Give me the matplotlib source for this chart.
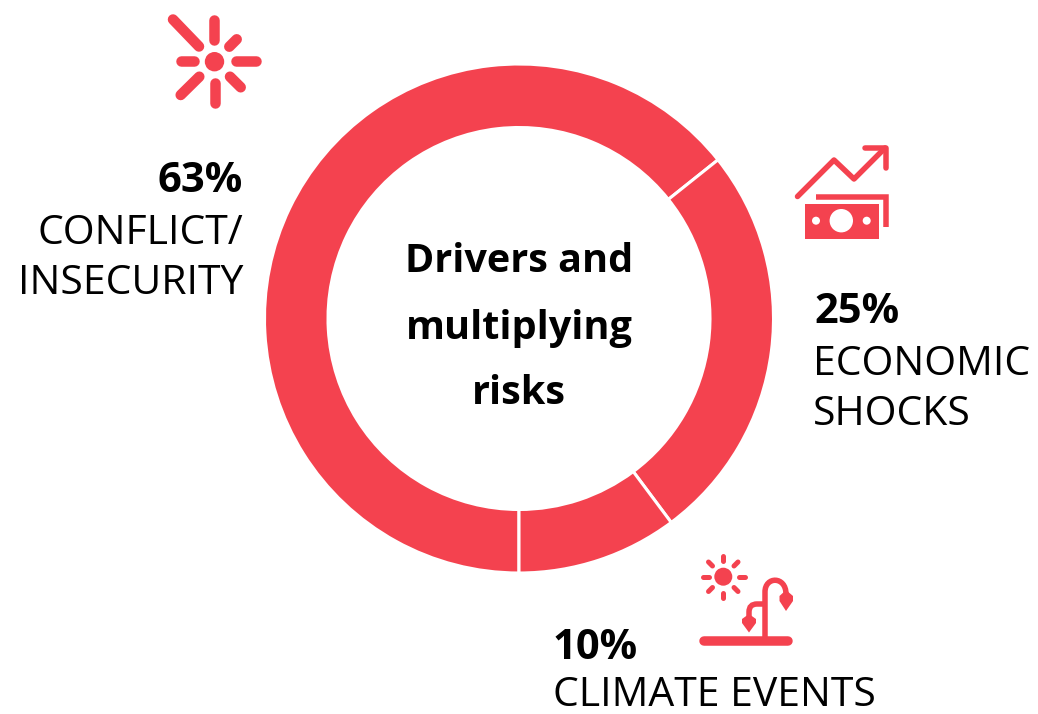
import matplotlib
matplotlib.use('Agg')
import matplotlib.pyplot as plt
from matplotlib.patches import Circle, Rectangle, PathPatch
from matplotlib.path import Path

W, H = 1038, 714
RED = '#f4424f'

# donut shares, conflict starts at 6 o'clock and goes clockwise
shares = [63, 25, 10]
pct_labels = ['63%', '25%', '10%']
driver_labels = ['CONFLICT/\nINSECURITY', 'ECONOMIC\nSHOCKS', 'CLIMATE EVENTS']
center_lines = ['Drivers and', 'multiplying', 'risks']

plt.rcParams['font.family'] = ['Open Sans', 'DejaVu Sans']


def px(v):
    # stroke width from pixels to points
    return v * 72 / 100


def stroke(ax, pts, w, cap='round', join='round'):
    xs, ys = zip(*pts)
    ax.plot(xs, ys, color=RED, lw=px(w), solid_capstyle=cap, solid_joinstyle=join)


fig = plt.figure(figsize=(W / 100, H / 100), dpi=100, facecolor='white')

# donut
cx, cy, r_out, r_in = 519, 318.5, 254.5, 191
ax = fig.add_axes([(cx - r_out) / W, 1 - (cy + r_out) / H, 2 * r_out / W, 2 * r_out / H])
ax.pie(shares, startangle=270, counterclock=False, colors=[RED] * 3, radius=1,
       wedgeprops=dict(width=1 - r_in / r_out, edgecolor='white', linewidth=2.2))
ax.set_xlim(-1, 1)
ax.set_ylim(-1, 1)
ax.set_aspect('equal')
ax.axis('off')

# overlay in pixel coordinates for text and icons
ov = fig.add_axes([0, 0, 1, 1])
ov.set_xlim(0, W)
ov.set_ylim(H, 0)
ov.axis('off')

for line, y in zip(center_lines, [259, 326, 391]):
    ov.text(cx, y + 2, line, ha='center', va='center', fontsize=28.5, fontweight='bold', color='black')

size_pct, size_lbl = 30, 29.4
ov.text(243, 192, pct_labels[0], ha='right', va='baseline', fontsize=size_pct, fontweight='bold')
ov.text(243, 244, 'CONFLICT/', ha='right', va='baseline', fontsize=size_lbl)
ov.text(243, 294, 'INSECURITY', ha='right', va='baseline', fontsize=size_lbl)

ov.text(814, 323, pct_labels[1], ha='left', va='baseline', fontsize=size_pct, fontweight='bold')
ov.text(813, 375, 'ECONOMIC', ha='left', va='baseline', fontsize=size_lbl)
ov.text(813, 425, 'SHOCKS', ha='left', va='baseline', fontsize=size_lbl)

ov.text(553, 659, pct_labels[2], ha='left', va='baseline', fontsize=size_pct, fontweight='bold')
ov.text(553, 706, driver_labels[2], ha='left', va='baseline', fontsize=size_lbl)

# burst icon
ov.add_patch(Circle((214.5, 61.7), 9.7, color=RED, lw=0))
for a, b, w in [((173, 19.5), (199, 46.5), 10.5), ((214.3, 20), (214.3, 40), 10.5),
                ((229.3, 46.7), (236.7, 39.3), 10.5), ((236, 61.3), (256, 61.3), 10.5),
                ((180.7, 61.3), (194, 61.3), 10.5), ((199.3, 76.7), (180.7, 95), 10.5),
                ((215, 82.7), (215, 102.7), 10.5), ((230, 76.7), (240.7, 87.3), 10.5)]:
    stroke(ov, [a, b], w)

# money icon
stroke(ov, [(797.5, 196.5), (834, 160), (854, 179), (885, 148)], 5.5)
stroke(ov, [(865, 147.5), (886, 147.5), (886, 168)], 5.5)
stroke(ov, [(816, 196.5), (885.5, 196.5), (885.5, 226.5)], 5.5, cap='butt', join='miter')
ov.add_patch(Rectangle((804.5, 203.5), 74.5, 35, color=RED, lw=0))
ov.add_patch(Circle((841.3, 220.7), 11.7, color='white', lw=0))
ov.add_patch(Circle((816, 220.7), 4, color='white', lw=0))
ov.add_patch(Circle((866.7, 220.7), 4, color='white', lw=0))

# climate icon
ov.add_patch(Circle((723.3, 576.7), 9, color=RED, lw=0))
for a, b in [((723.3, 555.5), (723.3, 561)), ((723.3, 592.5), (723.3, 598)),
             ((702.5, 576.7), (708.5, 576.7)), ((738.5, 576.7), (744.5, 576.7)),
             ((708.5, 562), (712.5, 566)), ((738, 562), (734, 566)),
             ((708.5, 591.5), (712.5, 587.5)), ((738, 591.5), (734, 587.5))]:
    stroke(ov, [a, b], 5)
stroke(ov, [(704, 640.7), (788, 640.7)], 9.5)
stem = Path([(765, 640), (765, 592), (765, 576), (786, 576), (786, 594)],
            [Path.MOVETO, Path.LINETO, Path.CURVE4, Path.CURVE4, Path.CURVE4])
ov.add_patch(PathPatch(stem, fc='none', ec=RED, lw=px(5.5)))
branch = Path([(765, 604), (757, 604), (749, 604), (749, 612), (749, 618)],
              [Path.MOVETO, Path.LINETO, Path.CURVE3, Path.CURVE3, Path.LINETO])
ov.add_patch(PathPatch(branch, fc='none', ec=RED, lw=px(5.5)))
for pts in [[(786, 590), (793, 596), (793, 601), (786, 611), (779.5, 601), (779.5, 596)],
            [(749, 614), (756, 619), (756, 623), (749, 632.5), (742, 623), (742, 619)]]:
    ov.fill(*zip(*pts), color=RED, lw=0)

fig.savefig('out.png', dpi=100, facecolor='white')
